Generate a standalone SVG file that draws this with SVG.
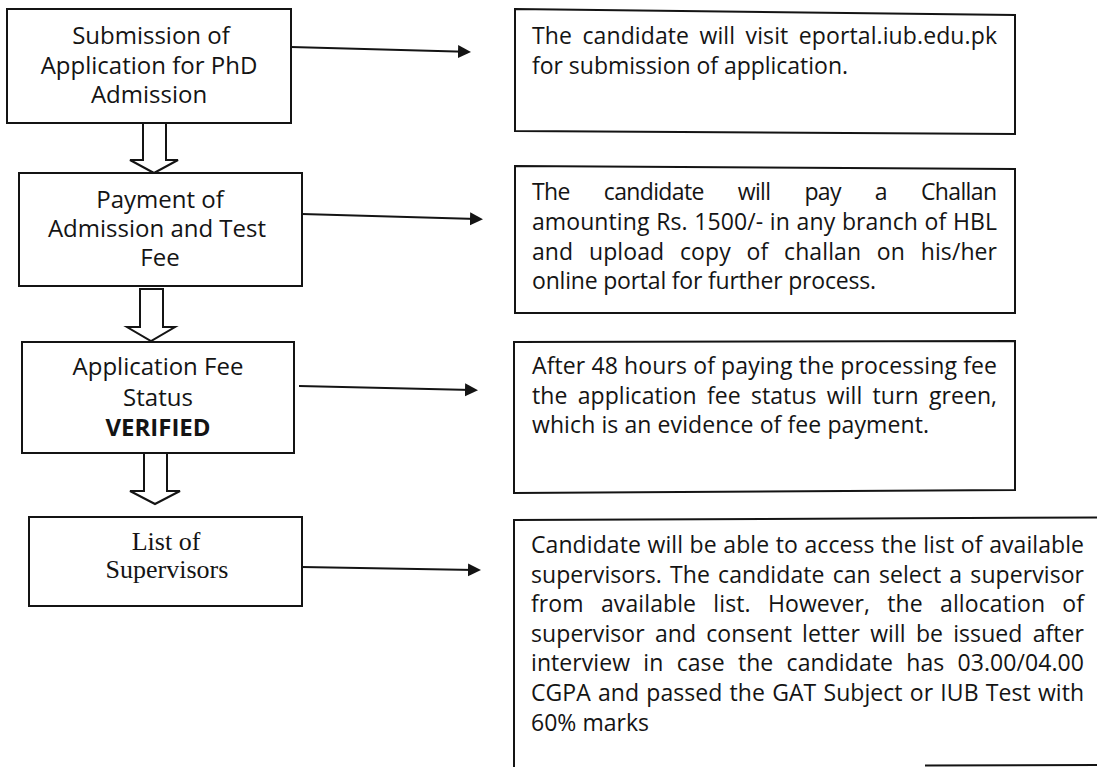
<svg xmlns="http://www.w3.org/2000/svg" width="1097" height="767" viewBox="0 0 1097 767">
<style>
.box{fill:#fff;stroke:#141414;stroke-width:2}
.blk{fill:#fff;stroke:#141414;stroke-width:2;stroke-linejoin:miter}
.lbl{font-family:"Open Sans","Noto Sans","DejaVu Sans",sans-serif;font-size:24px;fill:#141414;text-anchor:middle}
.ser{font-family:"Liberation Serif","Times New Roman",serif;font-size:26px;fill:#141414;text-anchor:middle}
.txt{font-family:"Open Sans","Noto Sans","DejaVu Sans",sans-serif;font-size:23px;fill:#141414}
.con{stroke:#141414;stroke-width:2;fill:none}
</style>
<defs>
<marker id="ah" markerWidth="14" markerHeight="14" refX="7" refY="7" orient="auto" markerUnits="userSpaceOnUse">
<path d="M0,0.5 L13,7 L0,13.5 z" fill="#141414"/>
</marker>
</defs>
<rect width="1097" height="767" fill="#fff"/>

<g id="connectors">
<line class="con" x1="291" y1="47" x2="465" y2="51.8" marker-end="url(#ah)"/>
<line class="con" x1="302" y1="214" x2="477" y2="219" marker-end="url(#ah)"/>
<line class="con" x1="299" y1="386" x2="472" y2="390" marker-end="url(#ah)"/>
<line class="con" x1="302" y1="567" x2="475" y2="570" marker-end="url(#ah)"/>
<polygon class="blk" points="143,123 166,123 166,160 178,160 154,173 130,160 143,160"/>
<polygon class="blk" points="140,289 163,289 163,327 175,327 151,341 127,327 140,327"/>
<polygon class="blk" points="144,453 167,453 167,491 180,491 155,504 130,491 144,491"/>
</g>

<g id="step1">
<rect class="box" x="7" y="9" width="284" height="114"/>
<text class="lbl" x="151" y="44">Submission of</text>
<text class="lbl" x="149" y="74">Application for PhD</text>
<text class="lbl" x="149" y="103">Admission</text>
</g>

<g id="step2">
<rect class="box" x="19" y="173" width="283" height="113"/>
<text class="lbl" x="160" y="208">Payment of</text>
<text class="lbl" x="157" y="237">Admission and Test</text>
<text class="lbl" x="160" y="266">Fee</text>
</g>

<g id="step3">
<rect class="box" x="22" y="342" width="272" height="111"/>
<text class="lbl" x="158" y="375">Application Fee</text>
<text class="lbl" x="158" y="406">Status</text>
<text class="lbl" x="158" y="436" font-weight="bold">VERIFIED</text>
</g>

<g id="step4">
<rect class="box" x="29" y="517" width="273" height="89"/>
<text class="ser" x="166" y="550">List of</text>
<text class="ser" x="167" y="578">Supervisors</text>
</g>

<g id="desc1">
<polygon class="box" points="515,9 1015,15 1015,134 515,131"/>
<text class="txt" x="532" y="44" style="word-spacing:4.3px" textLength="465" lengthAdjust="spacing">The candidate will visit eportal.iub.edu.pk</text>
<text class="txt" x="532" y="74" textLength="316" lengthAdjust="spacing">for submission of application.</text>
</g>

<g id="desc2">
<polygon class="box" points="515,166 1015,169 1015,313 515,313"/>
<text class="txt" x="532" y="200" style="word-spacing:28.6px" textLength="465" lengthAdjust="spacing">The candidate will pay a Challan</text>
<text class="txt" x="532" y="230" style="word-spacing:0.6px" textLength="465" lengthAdjust="spacing">amounting Rs. 1500/- in any branch of HBL</text>
<text class="txt" x="532" y="260" style="word-spacing:9.7px" textLength="465" lengthAdjust="spacing">and upload copy of challan on his/her</text>
<text class="txt" x="532" y="289" textLength="344" lengthAdjust="spacing">online portal for further process.</text>
</g>

<g id="desc3">
<polygon class="box" points="514,342 1015,341 1015,490 514,493"/>
<text class="txt" x="532" y="374" textLength="465" lengthAdjust="spacing">After 48 hours of paying the processing fee</text>
<text class="txt" x="532" y="404" style="word-spacing:4.2px" textLength="465" lengthAdjust="spacing">the application fee status will turn green,</text>
<text class="txt" x="532" y="433" textLength="397" lengthAdjust="spacing">which is an evidence of fee payment.</text>
</g>

<g id="desc4">
<path class="box" d="M514,768 V520 L1100,517.5"/>
<line class="con" x1="925" y1="765.5" x2="1100" y2="765"/>
<text class="txt" x="531" y="553" style="word-spacing:0.5px" textLength="553" lengthAdjust="spacing">Candidate will be able to access the list of available</text>
<text class="txt" x="531" y="583" style="word-spacing:2.1px" textLength="553" lengthAdjust="spacing">supervisors. The candidate can select a supervisor</text>
<text class="txt" x="531" y="612" style="word-spacing:11.1px" textLength="553" lengthAdjust="spacing">from available list. However, the allocation of</text>
<text class="txt" x="531" y="642" style="word-spacing:4.1px" textLength="553" lengthAdjust="spacing">supervisor and consent letter will be issued after</text>
<text class="txt" x="531" y="671" style="word-spacing:7.2px" textLength="553" lengthAdjust="spacing">interview in case the candidate has 03.00/04.00</text>
<text class="txt" x="531" y="701" style="word-spacing:1.2px" textLength="553" lengthAdjust="spacing">CGPA and passed the GAT Subject or IUB Test with</text>
<text class="txt" x="531" y="731" textLength="118" lengthAdjust="spacing">60% marks</text>
</g>
</svg>
